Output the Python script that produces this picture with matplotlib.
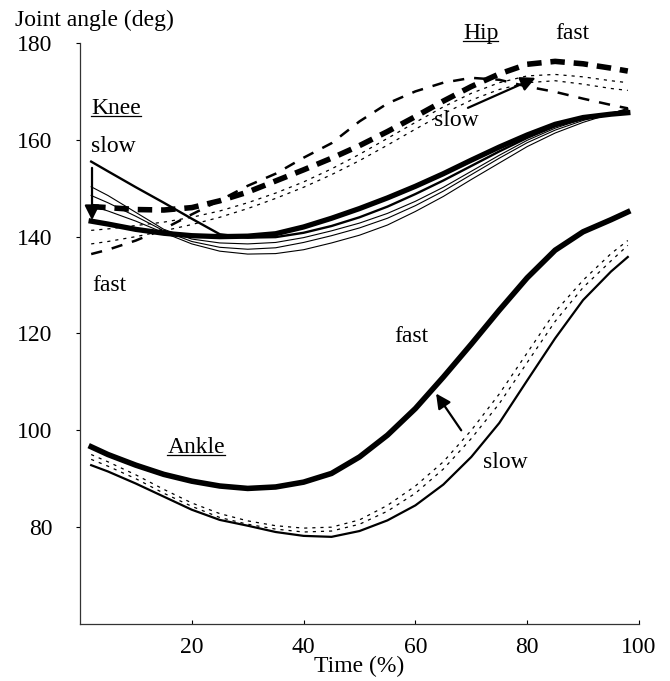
import matplotlib
matplotlib.use('Agg')
import matplotlib.pyplot as plt
from matplotlib.lines import Line2D

plt.rcParams['font.family'] = ['Liberation Serif', 'DejaVu Serif']

# time samples (% of cycle)
time_pct = [2, 5, 10, 15, 20, 25, 30, 35, 40, 45, 50, 55, 60, 65, 70, 75, 80, 85, 90, 95, 98]

# hip (dashed)
hip_fast = [146.2, 146.0, 145.6, 145.5, 146.0, 147.4, 149.2, 151.5, 153.8, 156.2, 158.8,
            161.7, 164.8, 168.0, 171.0, 173.6, 175.6, 176.2, 175.7, 174.8, 174.2]
hip_mid1 = [141.3, 141.6, 142.3, 143.0, 144.0, 145.3, 147.0, 149.0, 151.3, 154.0, 157.0,
            160.3, 163.6, 166.8, 169.6, 171.8, 173.2, 173.5, 173.0, 172.2, 171.8]
hip_mid2 = [138.5, 139.0, 140.0, 141.2, 142.5, 144.0, 145.8, 147.9, 150.2, 152.8, 155.7,
            158.9, 162.2, 165.4, 168.2, 170.4, 171.8, 172.2, 171.5, 170.6, 170.2]
hip_slow = [136.4, 137.3, 139.2, 141.6, 144.6, 147.5, 150.5, 153.0, 156.3, 159.3, 163.8,
            167.5, 170.0, 171.8, 172.8, 172.4, 171.0, 169.9, 168.5, 167.2, 166.5]

# knee (solid)
knee_fast = [143.2, 142.6, 141.5, 140.7, 140.2, 140.0, 140.1, 140.6, 142.0, 143.8, 145.8,
             148.0, 150.4, 153.0, 155.8, 158.5, 161.0, 163.2, 164.6, 165.3, 165.6]
knee_slow = [155.5, 153.5, 150.2, 147.0, 143.7, 140.5, 139.8, 139.9, 140.8, 142.2, 144.0,
             146.2, 148.8, 151.6, 154.6, 157.6, 160.4, 162.8, 164.4, 165.2, 165.5]
knee_mid1 = [150.3, 148.5, 145.0, 141.5, 139.5, 138.7, 138.5, 138.8, 139.8, 141.2, 142.8,
             144.8, 147.3, 150.2, 153.5, 156.8, 159.9, 162.4, 164.3, 165.6, 166.2]
knee_mid2 = [148.5, 147.0, 144.2, 141.2, 139.0, 137.8, 137.4, 137.7, 138.8, 140.2, 141.8,
             143.8, 146.4, 149.4, 152.8, 156.2, 159.4, 162.0, 164.0, 165.5, 166.3]
knee_mid3 = [146.4, 145.3, 143.2, 140.8, 138.5, 137.0, 136.4, 136.5, 137.3, 138.7, 140.3,
             142.4, 145.2, 148.3, 151.8, 155.2, 158.6, 161.4, 163.6, 165.4, 166.5]

# ankle
ankle_fast = [96.6, 95.0, 92.8, 90.9, 89.5, 88.5, 88.0, 88.3, 89.3, 91.1, 94.5,
              99.0, 104.5, 111.0, 117.8, 124.8, 131.5, 137.2, 141.0, 143.5, 145.1]
ankle_mid1 = [95.0, 93.5, 90.8, 87.8, 85.0, 82.8, 81.3, 80.3, 79.8, 80.0, 81.5,
              84.5, 88.5, 93.5, 100.0, 107.5, 116.0, 124.5, 131.0, 136.5, 139.2]
ankle_mid2 = [94.0, 92.6, 90.0, 87.0, 84.3, 82.0, 80.6, 79.6, 79.0, 79.2, 80.6,
              83.3, 87.0, 92.0, 98.3, 105.5, 114.0, 122.5, 129.5, 135.0, 138.2]
ankle_slow = [92.8, 91.5, 89.0, 86.3, 83.6, 81.5, 80.3, 79.0, 78.2, 78.0, 79.2,
              81.4, 84.5, 88.8, 94.5, 101.5, 110.3, 119.0, 126.9, 132.8, 135.8]

x_ticks = [20, 40, 60, 80, 100]
y_ticks = [80, 100, 120, 140, 160, 180]

FS = 17
DOTTED = (0, (2.5, 4))

fig = plt.figure(figsize=(6.70, 6.81), dpi=100)
ax = fig.add_axes([0.1194, 0.0837, 0.8343, 0.8532])

# hip
ax.plot(time_pct, hip_mid1, color='black', lw=0.9, linestyle=DOTTED)
ax.plot(time_pct, hip_mid2, color='black', lw=0.9, linestyle=DOTTED)
ax.plot(time_pct, hip_slow, color='black', lw=1.8, linestyle=(0, (4.5, 4)))
ax.plot(time_pct, hip_fast, color='black', lw=4.0, linestyle=(0, (2.6, 1.6)))

# knee
for series in (knee_mid1, knee_mid2, knee_mid3):
    ax.plot(time_pct, series, color='black', lw=0.8)
ax.plot(time_pct, knee_slow, color='black', lw=1.7)
ax.plot(time_pct, knee_fast, color='black', lw=3.8)

# ankle
ax.plot(time_pct, ankle_mid1, color='black', lw=0.9, linestyle=DOTTED)
ax.plot(time_pct, ankle_mid2, color='black', lw=0.9, linestyle=DOTTED)
ax.plot(time_pct, ankle_slow, color='black', lw=1.6)
ax.plot(time_pct, ankle_fast, color='black', lw=4.0)

arrow = dict(arrowstyle='-|>', mutation_scale=22, lw=1.6, color='black', shrinkA=0, shrinkB=0)
ax.annotate('', xy=(2.15, 143.4), xytext=(2.15, 154.2), arrowprops=arrow)
ax.annotate('', xy=(81.5, 172.8), xytext=(69.4, 166.6), arrowprops=arrow)
ax.annotate('', xy=(63.7, 107.6), xytext=(68.2, 100.0), arrowprops=arrow)

underlined = []
underlined.append(ax.text(71.7, 182.0, 'Hip', fontsize=FS, ha='center', va='center'))
underlined.append(ax.text(6.4, 166.4, 'Knee', fontsize=FS, ha='center', va='center'))
underlined.append(ax.text(20.8, 96.5, 'Ankle', fontsize=FS, ha='center', va='center'))

ax.text(88.0, 181.9, 'fast', fontsize=FS, ha='center', va='center')
ax.text(67.4, 163.9, 'slow', fontsize=FS, ha='center', va='center')
ax.text(6.0, 158.7, 'slow', fontsize=FS, ha='center', va='center')
ax.text(5.3, 130.0, 'fast', fontsize=FS, ha='center', va='center')
ax.text(59.3, 119.3, 'fast', fontsize=FS, ha='center', va='center')
ax.text(76.0, 93.4, 'slow', fontsize=FS, ha='center', va='center')

ax.set_xlim(0, 100)
ax.set_ylim(60, 180)
ax.set_xticks(x_ticks)
ax.set_yticks(y_ticks)
ax.tick_params(axis='x', direction='in', length=3, width=0.8, pad=9, labelsize=FS)
ax.tick_params(axis='y', direction='out', length=3, width=0.8, pad=17, labelsize=FS)
for side in ('top', 'right'):
    ax.spines[side].set_visible(False)
for side in ('left', 'bottom'):
    ax.spines[side].set_linewidth(0.9)
    ax.spines[side].set_color('#333333')

ax.set_xlabel('Time (%)', fontsize=FS, labelpad=-1)
fig.text(0.022, 0.970, 'Joint angle (deg)', fontsize=FS, ha='left', va='center')

# underline the joint names
fig.canvas.draw()
renderer = fig.canvas.get_renderer()
inv = fig.transFigure.inverted()
for t in underlined:
    bb = t.get_window_extent(renderer)
    (x0, y0), (x1, _) = inv.transform([[bb.x0, bb.y0 + 3], [bb.x1, bb.y1]])
    fig.add_artist(Line2D([x0, x1], [y0, y0], color='black', lw=0.9, transform=fig.transFigure))

fig.savefig('out.png', dpi=100)
